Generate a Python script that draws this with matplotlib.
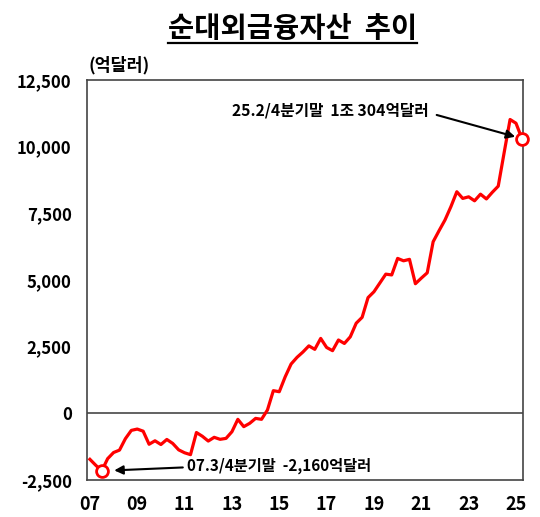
import numpy as np
import pandas as pd
import matplotlib
matplotlib.use("Agg")
import matplotlib.pyplot as plt
from matplotlib.lines import Line2D

plt.rcParams['font.family'] = ['Noto Sans CJK KR', 'DejaVu Sans']
plt.rcParams['axes.unicode_minus'] = False

# ============================================================
# Dados (억달러, 분기말) 2007.1/4 ~ 2025.2/4
# ============================================================

trimestres = pd.period_range("2007Q1", "2025Q2", freq="Q")

valores = [
    -1725, -1950, -2160, -1700, -1470, -1380, -950, -640,
    -590, -670, -1160, -1030, -1170, -980, -1130, -1370,
    -1480, -1550, -720, -860, -1040, -900, -975, -940,
    -690, -225, -500, -375, -190, -225, 125, 850,
    810, 1370, 1850, 2100, 2300, 2530, 2400, 2810,
    2470, 2350, 2750, 2620, 2870, 3380, 3600, 4340,
    4560, 4890, 5220, 5190, 5810, 5720, 5775, 4860,
    5070, 5270, 6435, 6850, 7250, 7750, 8310, 8060,
    8120, 7970, 8220, 8040, 8290, 8520, 9780, 11020,
    10880, 10304,
]

rotulos_x = ["07", "09", "11", "13", "15", "17", "19", "21", "23", "25"]
ticks_y = [-2500, 0, 2500, 5000, 7500, 10000, 12500]

idx_min = 2          # 07.3/4분기말
idx_ultimo = len(valores) - 1   # 25.2/4분기말

x = np.arange(len(trimestres))
y = np.array(valores)

# ============================================================
# Gráfico
# ============================================================

fig = plt.figure(figsize=(5.4, 5.17), dpi=100)
ax = fig.add_axes([0.161, 0.0716, 0.8066, 0.7736])

ax.plot(x, y, color="#ff0000", linewidth=2.3, solid_joinstyle="round", zorder=3)

# linha do zero
ax.axhline(0, color="#555555", linewidth=1.3, zorder=2)

# circulos nos pontos destacados
ax.plot(x[[idx_min, idx_ultimo]], y[[idx_min, idx_ultimo]], linestyle="none",
        marker="o", markersize=8.5, markerfacecolor="white",
        markeredgecolor="#ff0000", markeredgewidth=2.0, zorder=4, clip_on=False)

ax.set_xlim(-0.5, 73.1)
ax.set_ylim(-2500, 12500)

pos_x = [i for i, t in enumerate(trimestres) if t.quarter == 1 and t.year % 2 == 1]
ax.set_xticks(pos_x)
ax.set_xticklabels(rotulos_x)
ax.set_yticks(ticks_y)
ax.set_yticklabels([f"{v:,}" for v in ticks_y])

ax.tick_params(axis="x", length=0, pad=11, labelsize=13)
ax.tick_params(axis="y", length=0, pad=11, labelsize=12)
for lab in ax.get_xticklabels() + ax.get_yticklabels():
    lab.set_fontweight("bold")

for sp in ax.spines.values():
    sp.set_color("#444444")
    sp.set_linewidth(1.2)

# anotacoes
ax.annotate("", xy=(x[idx_ultimo], y[idx_ultimo]), xytext=(58.6, 11190),
            arrowprops=dict(arrowstyle="-|>", color="black", lw=1.5,
                            mutation_scale=13, shrinkA=0, shrinkB=5))
ax.text(57.2, 11340, "25.2/4분기말  1조 304억달러", ha="right", va="center",
        fontsize=11.3, fontweight="bold")

ax.annotate("", xy=(x[idx_min], y[idx_min]), xytext=(15.7, -2030),
            arrowprops=dict(arrowstyle="-|>", color="black", lw=1.5,
                            mutation_scale=13, shrinkA=0, shrinkB=9))
ax.text(16.4, -1975, "07.3/4분기말  -2,160억달러", ha="left", va="center",
        fontsize=11, fontweight="bold")

fig.text(0.163, 0.874, "(억달러)", ha="left", va="center",
         fontsize=12.5, fontweight="bold")

# titulo sublinhado
titulo = fig.text(0.541, 0.944, "순대외금융자산  추이", ha="center", va="center",
                  fontsize=20.5, fontweight="bold")
fig.canvas.draw()
bb = titulo.get_window_extent().transformed(fig.transFigure.inverted())
fig.add_artist(Line2D([bb.x0, bb.x1], [0.916, 0.916], color="black",
                      linewidth=1.6, transform=fig.transFigure))

fig.savefig("out.png", dpi=100)
